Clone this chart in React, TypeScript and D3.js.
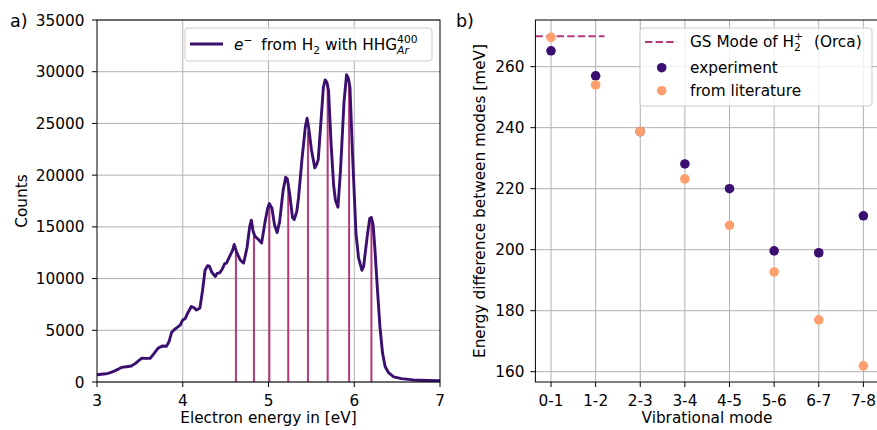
import React from 'react';
import * as d3 from 'd3';

// ---------- data: panel a ----------
const energy = [3.00,3.05,3.10,3.13,3.17,3.20,3.25,3.29,3.34,3.40,3.45,3.49,3.52,3.57,3.62,3.66,3.71,3.76,3.81,3.84,3.87,3.90,3.94,3.97,4.00,4.03,4.06,4.10,4.13,4.16,4.20,4.23,4.26,4.29,4.31,4.34,4.38,4.40,4.43,4.46,4.49,4.51,4.55,4.58,4.60,4.63,4.67,4.71,4.75,4.78,4.80,4.82,4.84,4.88,4.92,4.96,4.99,5.01,5.04,5.07,5.10,5.13,5.17,5.20,5.22,5.25,5.28,5.30,5.33,5.35,5.39,5.43,5.45,5.47,5.50,5.54,5.56,5.58,5.61,5.64,5.66,5.68,5.70,5.73,5.76,5.78,5.81,5.84,5.88,5.91,5.93,5.95,5.98,6.02,6.05,6.09,6.11,6.15,6.18,6.20,6.22,6.24,6.27,6.30,6.33,6.36,6.40,6.46,6.55,6.69,6.85,7.00];
const counts = [700,750,800,840,950,1050,1250,1420,1480,1550,1800,2100,2290,2280,2300,2700,3250,3480,3450,3900,4800,5050,5300,5500,6000,6150,6700,7300,7200,6950,7150,8800,10800,11250,11200,10600,10200,10500,10550,10900,11450,11500,12200,12700,13300,12500,11800,11500,13000,15000,15650,14600,14100,13800,13450,15500,16800,17250,16800,15200,14450,15500,18500,19800,19600,18000,15900,15700,16500,17800,21500,24700,25500,24500,22500,20700,21000,21500,25000,28500,29200,29000,28200,23000,19000,17600,16900,20500,27000,29700,29400,28500,22000,14400,12000,10800,11200,14000,15800,15900,15200,13000,9000,5300,2800,1500,900,500,330,200,150,130];
const modeEnergies = [4.62, 4.83, 5.01, 5.23, 5.46, 5.69, 5.94, 6.20];
const modeHeights = [12600, 14200, 17300, 19200, 24200, 28500, 29000, 15700];
const countTicks = [0, 5000, 10000, 15000, 20000, 25000, 30000, 35000];
const energyTicks = [3, 4, 5, 6, 7];

// ---------- data: panel b ----------
const modes = ['0-1', '1-2', '2-3', '3-4', '4-5', '5-6', '6-7', '7-8'];
const experiment = [265.2, 257.0, 238.7, 228.1, 220.0, 199.6, 199.0, 211.1];
const literature = [269.6, 254.0, 238.7, 223.2, 208.0, 192.7, 177.0, 161.9];
const orcaGS = 270;
const orcaSpan = [-0.35, 1.2];
const diffTicks = [160, 180, 200, 220, 240, 260];

const FONT = 'DejaVu Sans';
const FS = 15.3;
const SUB = 10.7;
const PURPLE = '#3b0f70';
const PINK = '#b73779';
const ORANGE = '#fe9f6d';
const GRID = '#b0b0b0';

export default function App() {
  // panel a geometry
  const aL = 97, aR = 440, top = 20, bottom = 382;
  const xa = d3.scaleLinear().domain([3, 7]).range([aL, aR]);
  const ya = d3.scaleLinear().domain([0, 35000]).range([bottom, top]);
  const line = d3.line<number>().x((_, i) => xa(energy[i])).y((d) => ya(d));
  const pathD = line(counts) || '';

  // panel b geometry
  const bL = 535.4, bR = 879;
  const xb = d3.scaleLinear().domain([-0.35, 7.35]).range([bL, bR]);
  const yb = d3.scaleLinear().domain([156.62, 275.3]).range([bottom, top]);

  return (
    <svg width={877} height={430} style={{ position: 'absolute', left: 0, top: 0, background: '#fff' }}
      fontFamily={FONT} fontSize={FS}>
      <rect x={0} y={0} width={877} height={430} fill="#fff" />
      {/* ---------- panel a ---------- */}
      <g>
        {energyTicks.slice(1, -1).map((t) => (
          <line key={'gx' + t} x1={xa(t)} x2={xa(t)} y1={top} y2={bottom} stroke={GRID} strokeWidth={1} />
        ))}
        {countTicks.map((t) => (
          <line key={'gy' + t} x1={aL} x2={aR} y1={ya(t)} y2={ya(t)} stroke={GRID} strokeWidth={1} />
        ))}
        {modeEnergies.map((e, i) => (
          <line key={'m' + i} x1={xa(e)} x2={xa(e)} y1={ya(0)} y2={ya(modeHeights[i])} stroke={PINK} strokeWidth={2} />
        ))}
        <path d={pathD} fill="none" stroke={PURPLE} strokeWidth={2.9} strokeLinejoin="round" />
        <rect x={aL} y={top} width={aR - aL} height={bottom - top} fill="none" stroke="#000" strokeWidth={1} />
        {countTicks.map((t) => (
          <g key={'ty' + t}>
            <line x1={aL - 5} x2={aL} y1={ya(t)} y2={ya(t)} stroke="#000" strokeWidth={1} />
            <text x={aL - 12.5} y={ya(t)} dy="0.36em" textAnchor="end">{t}</text>
          </g>
        ))}
        {energyTicks.map((t) => (
          <g key={'tx' + t}>
            <line x1={xa(t)} x2={xa(t)} y1={bottom} y2={bottom + 5} stroke="#000" strokeWidth={1} />
            <text x={xa(t)} y={bottom + 24} textAnchor="middle">{t}</text>
          </g>
        ))}
        <text x={(aL + aR) / 2} y={423} textAnchor="middle">Electron energy in [eV]</text>
        <text transform={`translate(27,${(top + bottom) / 2}) rotate(-90)`} textAnchor="middle">Counts</text>
        <text x={10} y={27} fontSize={17.5}>a)</text>
        {/* legend */}
        <rect x={185} y={28} width={247} height={33} rx={3} fill="#fff" fillOpacity={0.8} stroke="#cccccc" strokeWidth={1} />
        <line x1={190} x2={223} y1={44} y2={44} stroke={PURPLE} strokeWidth={2.9} />
        <text x={234} y={50}>
          <tspan fontStyle="italic">e</tspan>
          <tspan dy={-6} fontSize={SUB}>{'\u2212'}</tspan>
          <tspan dy={6} dx={4}>{'  from H'}</tspan>
          <tspan dy={4} fontSize={SUB}>2</tspan>
          <tspan dy={-4}>{' with HHG'}</tspan>
          <tspan dy={-7} fontSize={SUB}>400</tspan>
          <tspan dy={11} dx={-20.4} fontSize={SUB} fontStyle="italic">Ar</tspan>
        </text>
      </g>

      {/* ---------- panel b ---------- */}
      <g>
        {modes.map((m, i) => (
          <line key={'bgx' + i} x1={xb(i)} x2={xb(i)} y1={top} y2={bottom} stroke={GRID} strokeWidth={1} />
        ))}
        {diffTicks.map((t) => (
          <line key={'bgy' + t} x1={bL} x2={bR} y1={yb(t)} y2={yb(t)} stroke={GRID} strokeWidth={1} />
        ))}
        <line x1={xb(orcaSpan[0])} x2={xb(orcaSpan[1])} y1={yb(orcaGS)} y2={yb(orcaGS)} stroke={PINK}
          strokeWidth={2} strokeDasharray="7.4,3.2" />
        {experiment.map((v, i) => (
          <circle key={'e' + i} cx={xb(i)} cy={yb(v)} r={4.8} fill={PURPLE} />
        ))}
        {literature.map((v, i) => (
          <circle key={'l' + i} cx={xb(i)} cy={yb(v)} r={4.8} fill={ORANGE} />
        ))}
        <rect x={bL} y={top} width={bR - bL} height={bottom - top} fill="none" stroke="#000" strokeWidth={1} />
        {diffTicks.map((t) => (
          <g key={'bty' + t}>
            <line x1={bL - 5} x2={bL} y1={yb(t)} y2={yb(t)} stroke="#000" strokeWidth={1} />
            <text x={bL - 11} y={yb(t)} dy="0.36em" textAnchor="end">{t}</text>
          </g>
        ))}
        {modes.map((m, i) => (
          <g key={'btx' + i}>
            <line x1={xb(i)} x2={xb(i)} y1={bottom} y2={bottom + 5} stroke="#000" strokeWidth={1} />
            <text x={xb(i)} y={bottom + 24} textAnchor="middle">{m}</text>
          </g>
        ))}
        <text x={707} y={423} textAnchor="middle">Vibrational mode</text>
        <text transform={`translate(485,${(top + bottom) / 2}) rotate(-90)`} textAnchor="middle">
          Energy difference between modes [meV]
        </text>
        <text x={456} y={27} fontSize={17.5}>b)</text>
        {/* legend */}
        <rect x={640} y={28} width={232} height={78} rx={3} fill="#fff" fillOpacity={0.8} stroke="#cccccc" strokeWidth={1} />
        <line x1={645} x2={677} y1={42} y2={42} stroke={PINK} strokeWidth={2} strokeDasharray="7.4,3.2" />
        <text x={690} y={47}>
          <tspan>GS Mode of H</tspan>
          <tspan dy={4} fontSize={SUB}>2</tspan>
          <tspan dy={-11} dx={-6.8} fontSize={SUB}>+</tspan>
          <tspan dy={7} dx={6}>{'  (Orca)'}</tspan>
        </text>
        <circle cx={661.7} cy={67.7} r={4.8} fill={PURPLE} />
        <text x={690} y={73}>experiment</text>
        <circle cx={661.7} cy={90.7} r={4.8} fill={ORANGE} />
        <text x={690} y={96}>from literature</text>
      </g>
    </svg>
  );
}
